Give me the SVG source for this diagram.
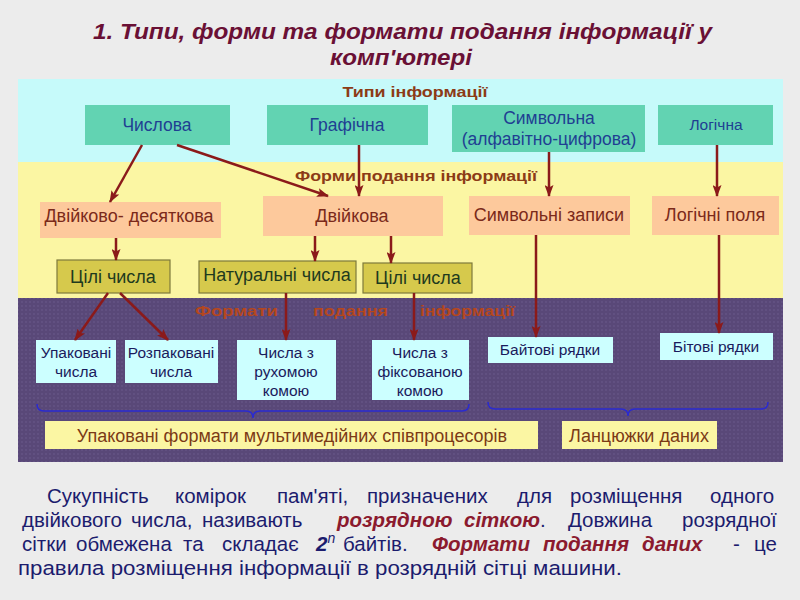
<svg xmlns="http://www.w3.org/2000/svg" width="800" height="600" viewBox="0 0 800 600">
<style>
text{font-family:"Liberation Sans",Arial,sans-serif}
.title{font-size:22px;font-weight:bold;font-style:italic;fill:#6a1035}
.hdr{font-size:15px;font-weight:bold;fill:#8c3b16;text-anchor:middle}
.fmt{font-size:15px;font-weight:bold;fill:#b5471d}
.teal{fill:#62d3b2}
.tt{font-size:17.5px;fill:#1f3f92;text-anchor:middle}
.salm{fill:#fdc99c}
.st{font-size:18px;fill:#7b2a1a;text-anchor:middle}
.olive{fill:#d6c94c;stroke:#7d7a3c;stroke-width:1.2}
.ot{font-size:18px;fill:#1e3a1e;text-anchor:middle}
.lc{fill:#ccffff}
.lt{font-size:15.5px;fill:#1a1a5c;text-anchor:middle}
.yb{fill:#fbf6a3}
.yt{font-size:18px;fill:#7b3a16;text-anchor:middle}
.arr{stroke:#8b1a1a;stroke-width:2.5;fill:none;marker-end:url(#ah)}
.brace{stroke:#2a2ad0;stroke-width:1.5;fill:none}
.p{font-size:20.5px;fill:#1c1c6e}
.em{font-weight:bold;font-style:italic;fill:#8b1a2e}
.bi{font-weight:bold;font-style:italic}
</style>
<defs>
<marker id="ah" markerUnits="userSpaceOnUse" markerWidth="12" markerHeight="9" refX="11" refY="4.5" orient="auto">
<path d="M0,0 L12,4.5 L0,9 L2.5,4.5 z" fill="#8b1a1a"/>
</marker>
<pattern id="dots" width="4" height="4" patternUnits="userSpaceOnUse">
<rect width="4" height="4" fill="#594878"/>
<circle cx="2" cy="2" r="0.7" fill="#6f5f90"/>
</pattern>
</defs>
<rect width="800" height="600" fill="#ececec"/>
<g id="title">
<text class="title" x="93" y="39" textLength="619" lengthAdjust="spacingAndGlyphs">1. Типи, форми та формати подання інформації у</text>
<text class="title" x="330" y="65" textLength="142" lengthAdjust="spacingAndGlyphs">комп'ютері</text>
</g>
<g id="bands">
<rect x="18" y="79" width="765" height="84" fill="#c6fafa"/>
<rect x="18" y="162" width="765" height="136" fill="#fbf6a3"/>
<rect x="18" y="298" width="765" height="164" fill="url(#dots)"/>
<text class="hdr" x="415" y="97" textLength="145" lengthAdjust="spacingAndGlyphs">Типи інформації</text>
<text class="hdr" x="416" y="181" textLength="242" lengthAdjust="spacingAndGlyphs">Форми подання інформації</text>
<text class="fmt" x="195" y="316" textLength="83" lengthAdjust="spacingAndGlyphs">Формати</text>
<text class="fmt" x="313" y="316" textLength="75" lengthAdjust="spacingAndGlyphs">подання</text>
<text class="fmt" x="420" y="316" textLength="95" lengthAdjust="spacingAndGlyphs">інформації</text>
</g>
<g id="n_chyslova"><rect class="teal" x="85" y="105" width="145" height="40"/><text class="tt" x="157" y="131">Числова</text></g>
<g id="n_grafichna"><rect class="teal" x="267" y="105" width="161" height="40"/><text class="tt" x="347" y="131">Графічна</text></g>
<g id="n_symvolna"><rect class="teal" x="452" y="105" width="193" height="47"/><text class="tt" x="549" y="124">Символьна</text><text class="tt" x="549" y="145">(алфавітно-цифрова)</text></g>
<g id="n_logichna"><rect class="teal" x="658" y="105" width="115" height="40"/><text class="tt" style="font-size:15.5px" x="716" y="130">Логічна</text></g>
<g id="n_dd"><rect class="salm" x="40" y="202" width="181" height="36"/><text class="st" x="129" y="222">Двійково- десяткова</text></g>
<g id="n_dv"><rect class="salm" x="263" y="196" width="180" height="40"/><text class="st" x="352" y="222">Двійкова</text></g>
<g id="n_sz"><rect class="salm" x="469" y="196" width="161" height="39"/><text class="st" x="549" y="221">Символьні записи</text></g>
<g id="n_lp"><rect class="salm" x="652" y="196" width="127" height="39"/><text class="st" x="715" y="221">Логічні поля</text></g>
<g id="n_c1"><rect class="olive" x="57" y="260" width="113" height="33"/><text class="ot" x="113" y="283">Цілі числа</text></g>
<g id="n_nat"><rect class="olive" x="199" y="261" width="157" height="32"/><text class="ot" x="277" y="281">Натуральні числа</text></g>
<g id="n_c2"><rect class="olive" x="363" y="263" width="109" height="30"/><text class="ot" x="418" y="284">Цілі числа</text></g>
<g id="n_up"><rect class="lc" x="36" y="340" width="80" height="43"/><text class="lt" x="76" y="358">Упаковані</text><text class="lt" x="76" y="377">числа</text></g>
<g id="n_rozp"><rect class="lc" x="125" y="340" width="93" height="43"/><text class="lt" x="171" y="358">Розпаковані</text><text class="lt" x="171" y="377">числа</text></g>
<g id="n_ruh"><rect class="lc" x="237" y="340" width="99" height="60"/><text class="lt" x="286" y="358">Числа з</text><text class="lt" x="286" y="377">рухомою</text><text class="lt" x="286" y="396">комою</text></g>
<g id="n_fix"><rect class="lc" x="372" y="340" width="97" height="60"/><text class="lt" x="420" y="358">Числа з</text><text class="lt" x="420" y="377">фіксованою</text><text class="lt" x="420" y="396">комою</text></g>
<g id="n_bajt"><rect class="lc" x="488" y="337" width="125" height="26"/><text class="lt" x="550" y="355">Байтові рядки</text></g>
<g id="n_bit"><rect class="lc" x="660" y="333" width="113" height="27"/><text class="lt" x="716" y="352">Бітові рядки</text></g>
<g id="n_mm"><rect class="yb" x="45" y="421" width="493" height="28"/><text class="yt" x="292" y="442">Упаковані формати мультимедійних співпроцесорів</text></g>
<g id="n_lan"><rect class="yb" x="562" y="421" width="155" height="28"/><text class="yt" x="639" y="442">Ланцюжки даних</text></g>
<g id="connectors">
<path class="arr" d="M142,145 L110,202"/>
<path class="arr" d="M177,145 L328,196"/>
<path class="arr" d="M359,145 L359,196"/>
<path class="arr" d="M549,152 L549,196"/>
<path class="arr" d="M717,145 L717,196"/>
<path class="arr" d="M116,238 L116,260"/>
<path class="arr" d="M315,236 L315,261"/>
<path class="arr" d="M391,236 L391,263"/>
<path class="arr" d="M108,293 L75,340"/>
<path class="arr" d="M120,293 L168,340"/>
<path class="arr" d="M286,293 L286,340"/>
<path class="arr" d="M414,293 L414,340"/>
<path class="arr" d="M536,235 L536,337"/>
<path class="arr" d="M719,235 L719,333"/>
<path class="brace" d="M37,404 Q37,411 44,411 L246,411 Q253,411 253,418 Q253,411 260,411 L462,411 Q469,411 469,404"/>
<path class="brace" d="M488,402 Q488,409 495,409 L621,409 Q628,409 628,416 Q628,409 635,409 L761,409 Q768,409 768,402"/>
</g>
<g id="paragraph">
<text class="p" y="503"><tspan x="47">Сукупність</tspan><tspan x="175">комірок</tspan><tspan x="277">пам'яті,</tspan><tspan x="367">призначених</tspan><tspan x="517">для</tspan><tspan x="570">розміщення</tspan><tspan x="710">одного</tspan></text>
<text class="p" y="527"><tspan x="22">двійкового</tspan><tspan x="131">числа,</tspan><tspan x="202">називають</tspan><tspan x="337" class="em">розрядною</tspan><tspan x="464" class="em">сіткою</tspan><tspan>.</tspan><tspan x="568">Довжина</tspan><tspan x="682">розрядної</tspan></text>
<text class="p" y="551"><tspan x="22">сітки</tspan><tspan x="76">обмежена</tspan><tspan x="183">та</tspan><tspan x="222">складає</tspan><tspan x="316" class="bi">2</tspan><tspan style="font-style:italic;font-size:14px" dy="-8">n</tspan><tspan x="343" dy="8">байтів.</tspan><tspan x="432" class="em">Формати</tspan><tspan x="543" class="em">подання</tspan><tspan x="642" class="em">даних</tspan><tspan x="733">-</tspan><tspan x="754">це</tspan></text>
<text class="p" x="18" y="575" textLength="604" lengthAdjust="spacingAndGlyphs">правила розміщення інформації в розрядній сітці машини.</text>
</g>
</svg>
